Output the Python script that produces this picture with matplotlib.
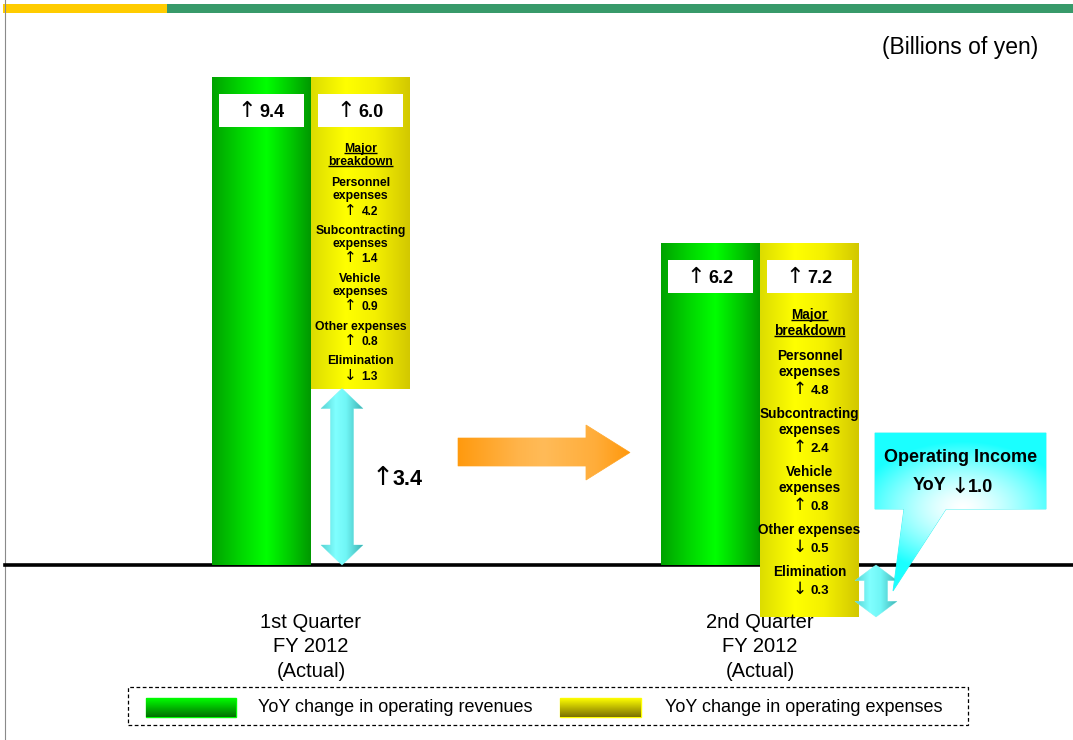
import numpy as np
import matplotlib
matplotlib.use("Agg")
import matplotlib.pyplot as plt
from matplotlib.patches import Rectangle, Polygon
from matplotlib.colors import LinearSegmentedColormap, to_rgb

plt.rcParams['font.family'] = ['Liberation Sans', 'DejaVu Sans']

# ---------------- data ----------------
quarters = ["1st Quarter\nFY 2012\n(Actual)", "2nd Quarter\nFY 2012\n(Actual)"]
revenue_change = [9.4, 6.2]          # YoY change in operating revenues
expense_change = [6.0, 7.2]          # YoY change in operating expenses
breakdown_labels = ["Personnel\nexpenses", "Subcontracting\nexpenses",
                    "Vehicle\nexpenses", "Other expenses", "Elimination"]
q1_breakdown = [4.2, 1.4, 0.9, 0.8, -1.3]
q2_breakdown = [4.8, 2.4, 0.8, -0.5, -0.3]
breakdowns = [q1_breakdown, q2_breakdown]
breakdown_header = ["Major", "breakdown"]
unit_label = "(Billions of yen)"
legend_labels = ["YoY change in operating revenues", "YoY change in operating expenses"]
callout_title = "Operating Income"

# ---------------- layout ----------------
W_PX, H_PX = 1073, 740
X0_PX, DX_PX = 311.0, 449.0      # pixel of category 0, pixels per category
Y0_PX, S = 565.0, 51.9           # pixel of zero line, pixels per billion yen

fig = plt.figure(figsize=(W_PX / 100, H_PX / 100), dpi=100)
ax = fig.add_axes([0, 0, 1, 1])
ax.set_axis_off()
ax.set_xlim(-X0_PX / DX_PX, (W_PX - X0_PX) / DX_PX)
ax.set_ylim(-(H_PX - Y0_PX) / S, Y0_PX / S)
ax.set_autoscale_on(False)


def P(px, py):
    return ((px - X0_PX) / DX_PX, (Y0_PX - py) / S)


def to_px(x, y):
    return (x * DX_PX + X0_PX, Y0_PX - y * S)


def dx(n):
    return n / DX_PX


def dy(n):
    return n / S


def ramp(colors, stops, n=256):
    cmap = LinearSegmentedColormap.from_list('r', list(zip(stops, colors)))
    return cmap(np.linspace(0, 1, n))[:, :3]


def grad(patch, arr, extent, z):
    patch.set_zorder(z)
    im = ax.imshow(arr, extent=extent, aspect='auto', interpolation='bilinear',
                   origin='upper', zorder=z + 0.01)
    im.set_clip_path(patch)
    return im


def arrow_value(xa, xn, yc, v, fs, afs, z=7):
    """Arrow glyph (thin, DejaVu) + bold number sharing a baseline; yc is line centre."""
    base = yc - dy(0.36 * fs * 100 / 72)
    glyph = "\u2191" if v >= 0 else "\u2193"
    ax.text(xa, base, glyph, family=['DejaVu Sans'], fontsize=afs, ha='center',
            va='baseline', zorder=z)
    ax.text(xn, base, f"{abs(v):.1f}", fontsize=fs, fontweight='bold', ha='left',
            va='baseline', zorder=z)


# ---------------- decorations: top stripe, frame ----------------
ax.add_patch(Rectangle(P(3, 13), dx(164), dy(9), facecolor='#ffcc00', edgecolor='none', zorder=1))
ax.add_patch(Rectangle(P(167, 13), dx(W_PX - 167), dy(9), facecolor='#389a6a', edgecolor='none', zorder=1))
ax.plot([P(5, 0)[0]] * 2, [P(5, 0)[1], P(5, H_PX)[1]], color='#8a8a8a', lw=0.8, zorder=1)
ax.text(*P(1038, 48), unit_label, ha='right', va='center', fontsize=16.5, color='black')

# zero line
ax.axhline(0, xmin=5 / W_PX, xmax=1, color='black', lw=2.6, zorder=2)

# ---------------- bars ----------------
xs = np.arange(len(quarters))
w = 99 / DX_PX
rev = np.array(revenue_change)
exp_ = np.array(expense_change)
op_income = rev - exp_

rev_bars = ax.bar(xs - w / 2, rev, width=w, bottom=0, color='none', edgecolor='none', zorder=3)
exp_bars = ax.bar(xs + w / 2, -exp_, width=w, bottom=rev, color='none', edgecolor='none', zorder=3)

green_h = ramp(['#00a200', '#00d800', '#00ff00', '#00c800', '#009800'], [0, 0.3, 0.55, 0.8, 1])[None, :, :]
yellow_h = ramp(['#dcdc00', '#ffff00', '#f4f000', '#d2c800'], [0, 0.35, 0.65, 1])[None, :, :]
for bars, arr in ((rev_bars, green_h), (exp_bars, yellow_h)):
    for r in bars:
        x0, y0, hh = r.get_x(), r.get_y(), r.get_height()
        grad(r, arr, [x0, x0 + r.get_width(), min(y0, y0 + hh), max(y0, y0 + hh)], 3)

# value boxes on top of bars
for i in range(len(quarters)):
    for xc, val in ((xs[i] - w / 2, rev[i]), (xs[i] + w / 2, exp_[i])):
        bw = dx(85)
        ax.add_patch(Rectangle((xc - bw / 2, rev[i] - dy(50)), bw, dy(33),
                               facecolor='white', edgecolor='none', zorder=4))
        arrow_value(xc - dx(15), xc - dx(2), rev[i] - dy(33.5), val, 13, 16, z=5)

# breakdown texts inside expense bars
underline_texts = []
for i in range(len(quarters)):
    xc = xs[i] + w / 2
    top_px = to_px(0, rev[i])[1]
    bot_px = to_px(0, rev[i] - exp_[i])[1]
    lines = [(breakdown_header[0], 0, True, None), (breakdown_header[1], 16, True, None)]
    y = 16
    for lab, v in zip(breakdown_labels, breakdowns[i]):
        y += 25
        for k, part in enumerate(lab.split("\n")):
            if k:
                y += 16
            lines.append((part, y, False, None))
        y += 17
        lines.append((None, y, False, v))
    total = y
    start = top_px + 50 + 22
    end = bot_px - 13
    scale = min(1.0, (end - start) / total)
    fs = 9.8 * min(1.0, max(0.9, scale * 1.05))
    for text, ry, ul, v in lines:
        yc = P(0, start + ry * scale)[1]
        if text is None:
            arrow_value(xc - dx(10), xc + dx(1), yc, v, fs * 0.97, fs * 1.25, z=5)
            continue
        t = ax.text(xc, yc, text, ha='center', va='center',
                    fontsize=fs, fontweight='bold', zorder=5)
        if ul:
            underline_texts.append(t)

# operating income double arrows
cyan_h = ramp(['#58d2d2', '#80ffff', '#70f6f6', '#3fb2b2'], [0, 0.35, 0.6, 1])[None, :, :]
arrow_dx = [31 / DX_PX, 116 / DX_PX]
for i, v in enumerate(op_income):
    c = xs[i] + arrow_dx[i]
    y0, y1 = min(0.0, v), max(0.0, v)
    L = (y1 - y0) * S
    hl = dy(min(20.0, 0.3 * L))
    hw, sw = dx(21), dx(11.5)
    pts = [(c, y1), (c + hw, y1 - hl), (c + sw, y1 - hl), (c + sw, y0 + hl),
           (c + hw, y0 + hl), (c, y0), (c - hw, y0 + hl), (c - sw, y0 + hl),
           (c - sw, y1 - hl), (c - hw, y1 - hl)]
    poly = Polygon(pts, closed=True, facecolor='none', edgecolor='#8af0f0', lw=0.4)
    ax.add_patch(poly)
    grad(poly, cyan_h, [c - hw, c + hw, y0, y1], 6)
    if v >= 0:
        arrow_value(c + dx(41), c + dx(51), v / 2, v, 15.5, 19, z=7)
    else:
        # callout balloon
        cx0, cy0, cx1, cy1 = 875, 433, 1046, 509
        tipx, tipy = to_px(c + dx(17), v / 2)
        pts_px = [(cx0, cy0), (cx1, cy0), (cx1, cy1), (946, cy1), (tipx, tipy),
                  (904, cy1), (cx0, cy1)]
        cpoly = Polygon([P(*p) for p in pts_px], closed=True, facecolor='none',
                        edgecolor='#30f0f0', lw=0.6)
        ax.add_patch(cpoly)
        nx, ny = int(cx1 - cx0) + 1, int(tipy - cy0) + 2
        X, Y = np.meshgrid(np.linspace(cx0, cx1, nx), np.linspace(cy0, cy0 + ny, ny))
        tt = np.clip(np.sqrt(((X - 962) / 105) ** 2 + ((Y - 508) / 66) ** 2), 0, 1) ** 1.4
        cyan = np.array(to_rgb('#1affff'))
        arr = (1 - tt)[..., None] * np.ones(3) + tt[..., None] * cyan
        ex0, ey_top = P(cx0, cy0)
        ex1, ey_bot = P(cx1, cy0 + ny)
        grad(cpoly, arr, [ex0, ex1, ey_bot, ey_top], 6)
        ax.text(*P(961, 458), callout_title, ha='center', va='center',
                fontsize=13, fontweight='bold', zorder=8)
        ax.text(*P(929, 486), "YoY", ha='center', va='center',
                fontsize=13, fontweight='bold', zorder=8)
        xcb, ycb = P(960, 486)
        arrow_value(xcb, xcb + dx(8), ycb, v, 13, 16, z=8)

# orange progression arrow
opts = [(458, 438), (586, 438), (586, 425), (630, 452.5), (586, 480), (586, 466), (458, 466)]
opoly = Polygon([P(*p) for p in opts], closed=True, facecolor='none', edgecolor='#ffa726', lw=0.5)
ax.add_patch(opoly)
orange_h = ramp(['#ff9a0e', '#ffb44a', '#ffbb58', '#ffad3a', '#ff980c'], [0, 0.35, 0.5, 0.8, 1])[None, :, :]
grad(opoly, orange_h, [P(458, 0)[0], P(630, 0)[0], P(0, 480)[1], P(0, 425)[1]], 5)

# category labels
for i, q in enumerate(quarters):
    ax.text(xs[i], P(0, 647)[1], q, ha='center', va='center', fontsize=14.5,
            linespacing=1.36, zorder=5)

# legend
ax.add_patch(Rectangle(P(128, 725), dx(840), dy(38), facecolor='none', edgecolor='black',
                       lw=0.9, linestyle=(0, (3, 2)), zorder=5))
swatches = [((146, 236), ['#00ff00', '#007000'], '#00ff00', 258),
            ((560, 641), ['#ffff00', '#7a7000'], '#ffff00', 665)]
for (sx0, sx1), cols, ec, tx in swatches:
    r = Rectangle(P(sx0, 717), dx(sx1 - sx0), dy(19), facecolor='none', edgecolor=ec, lw=1.0)
    ax.add_patch(r)
    arr = ramp(cols, [0, 1])[:, None, :]
    grad(r, arr, [P(sx0, 0)[0], P(sx1, 0)[0], P(0, 717)[1], P(0, 698)[1]], 6)
for (sw_, _, _, tx), lab in zip(swatches, legend_labels):
    ax.text(*P(tx, 707.5), lab, ha='left', va='center', fontsize=13, zorder=7)

# underlines for "Major breakdown"
fig.canvas.draw()
renderer = fig.canvas.get_renderer()
inv = ax.transData.inverted()
for t in underline_texts:
    bb = t.get_window_extent(renderer)
    (ux0, uy), (ux1, _) = inv.transform([(bb.x0, bb.y0 + 2.0), (bb.x1, bb.y0 + 2.0)])
    ax.plot([ux0, ux1], [uy, uy], color='black', lw=1.0, zorder=6, solid_capstyle='butt')

fig.savefig("out.png", dpi=100)
